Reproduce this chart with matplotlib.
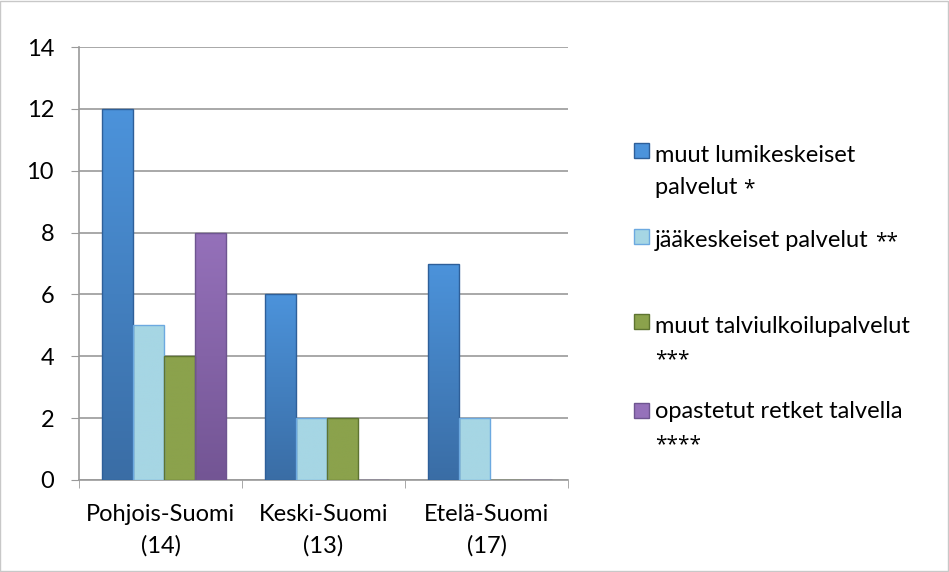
import numpy as np
import matplotlib
matplotlib.use("Agg")
import matplotlib.pyplot as plt
from matplotlib.patches import Rectangle
from matplotlib.colors import LinearSegmentedColormap

plt.rcParams['font.family'] = ['Lato', 'DejaVu Sans']

# Alueet ja palvelutyypit
alueet = ['Pohjois-Suomi\n(14)', 'Keski-Suomi\n(13)', 'Etelä-Suomi\n(17)']
sarjat = ['muut lumikeskeiset\npalvelut *',
          'jääkeskeiset palvelut **',
          'muut talviulkoilupalvelut\n***',
          'opastetut retket talvella\n****']
arvot = [
    [12, 6, 7],
    [5, 2, 2],
    [4, 2, 0],
    [8, 0, 0],
]

# värit: (ylä, ala) liukuvärille, reunaviiva
varit = [
    ('#4C93DB', '#3A6DA5', '#2E5F99'),
    ('#A6D6E4', '#A6D6E4', '#6CA9E0'),
    ('#8BA24C', '#8BA24C', '#5E7431'),
    ('#9571BA', '#735594', '#6E5590'),
]

koko = 17

fig = plt.figure(figsize=(9.49, 5.72), dpi=100)
ax = fig.add_axes([79/949, 1-480/572, (568-79)/949, (480-47)/572])

x = np.arange(len(alueet))
leveys = 0.19
gradient = np.linspace(1, 0, 256).reshape(-1, 1)

for i, (arvo, (ylä, ala, reuna)) in enumerate(zip(arvot, varit)):
    kohdat = x + (i - 1.5) * leveys + 0.02
    palkit = ax.bar(kohdat, arvo, width=leveys, facecolor='none',
                    edgecolor=reuna, linewidth=1.0, zorder=4)
    cmap = LinearSegmentedColormap.from_list('g%d' % i, [ala, ylä])
    for p in palkit:
        if p.get_height() <= 0:
            continue
        x0, y0 = p.get_x(), p.get_y()
        im = ax.imshow(gradient, cmap=cmap, aspect='auto', zorder=3,
                       extent=[x0, x0 + p.get_width(), y0, y0 + p.get_height()])
        im.set_clip_path(p)

ax.set_xlim(-0.5, 2.5)
ax.set_ylim(0, 14)
ax.set_yticks(range(0, 15, 2))
ax.set_xticks(x)
ax.set_xticklabels(alueet, linespacing=1.6)
ax.set_xticks([-0.5, 0.5, 1.5, 2.5], minor=True)
ax.tick_params(axis='x', which='major', length=0, pad=17, labelsize=koko)
ax.tick_params(axis='x', which='minor', length=6, color='#9A9A9A', direction='out')
ax.tick_params(axis='y', length=6, color='#9A9A9A', direction='out', pad=12,
               labelsize=koko)
ax.grid(axis='y', color='#9A9A9A', linewidth=1.2, zorder=0)
ax.set_axisbelow(True)
for s in ['top', 'right']:
    ax.spines[s].set_visible(False)
for s in ['left', 'bottom']:
    ax.spines[s].set_color('#9A9A9A')
    ax.spines[s].set_linewidth(1.2)

renderer = fig.canvas.get_renderer()


def rivi(px, py, teksti):
    # tähdet piirretään erikseen isommalla merkillä
    runko = teksti.rstrip('*')
    tahdet = teksti[len(runko):]
    xx = px / 949
    if runko:
        t = fig.text(xx, 1 - py / 572, runko, fontsize=koko, va='baseline', ha='left')
        bb = t.get_window_extent(renderer)
        xx = bb.x1 / fig.bbox.width
    if tahdet:
        fig.text(xx, 1 - py / 572, tahdet, fontsize=koko - 2, va='baseline', ha='left',
                 family='Open Sans')


# selite käsin oikealle puolelle
selite_y = [143, 229, 314, 403]
perusviivat = [162, 247, 333, 418]
for nimi, (ylä, ala, reuna), yy, by in zip(sarjat, varit, selite_y, perusviivat):
    fig.patches.append(Rectangle((634/949, 1-(yy+15)/572), 15/949, 15/572,
                                 transform=fig.transFigure, facecolor=ylä,
                                 edgecolor=reuna, linewidth=1))
    for k, osa in enumerate(nimi.split('\n')):
        rivi(655, by + 32 * k, osa)

fig.patches.append(Rectangle((0.0005, 0.001), 0.998, 0.997, transform=fig.transFigure,
                             facecolor='none', edgecolor='#C8C8C8', linewidth=1))

fig.savefig('out.png', dpi=100)
